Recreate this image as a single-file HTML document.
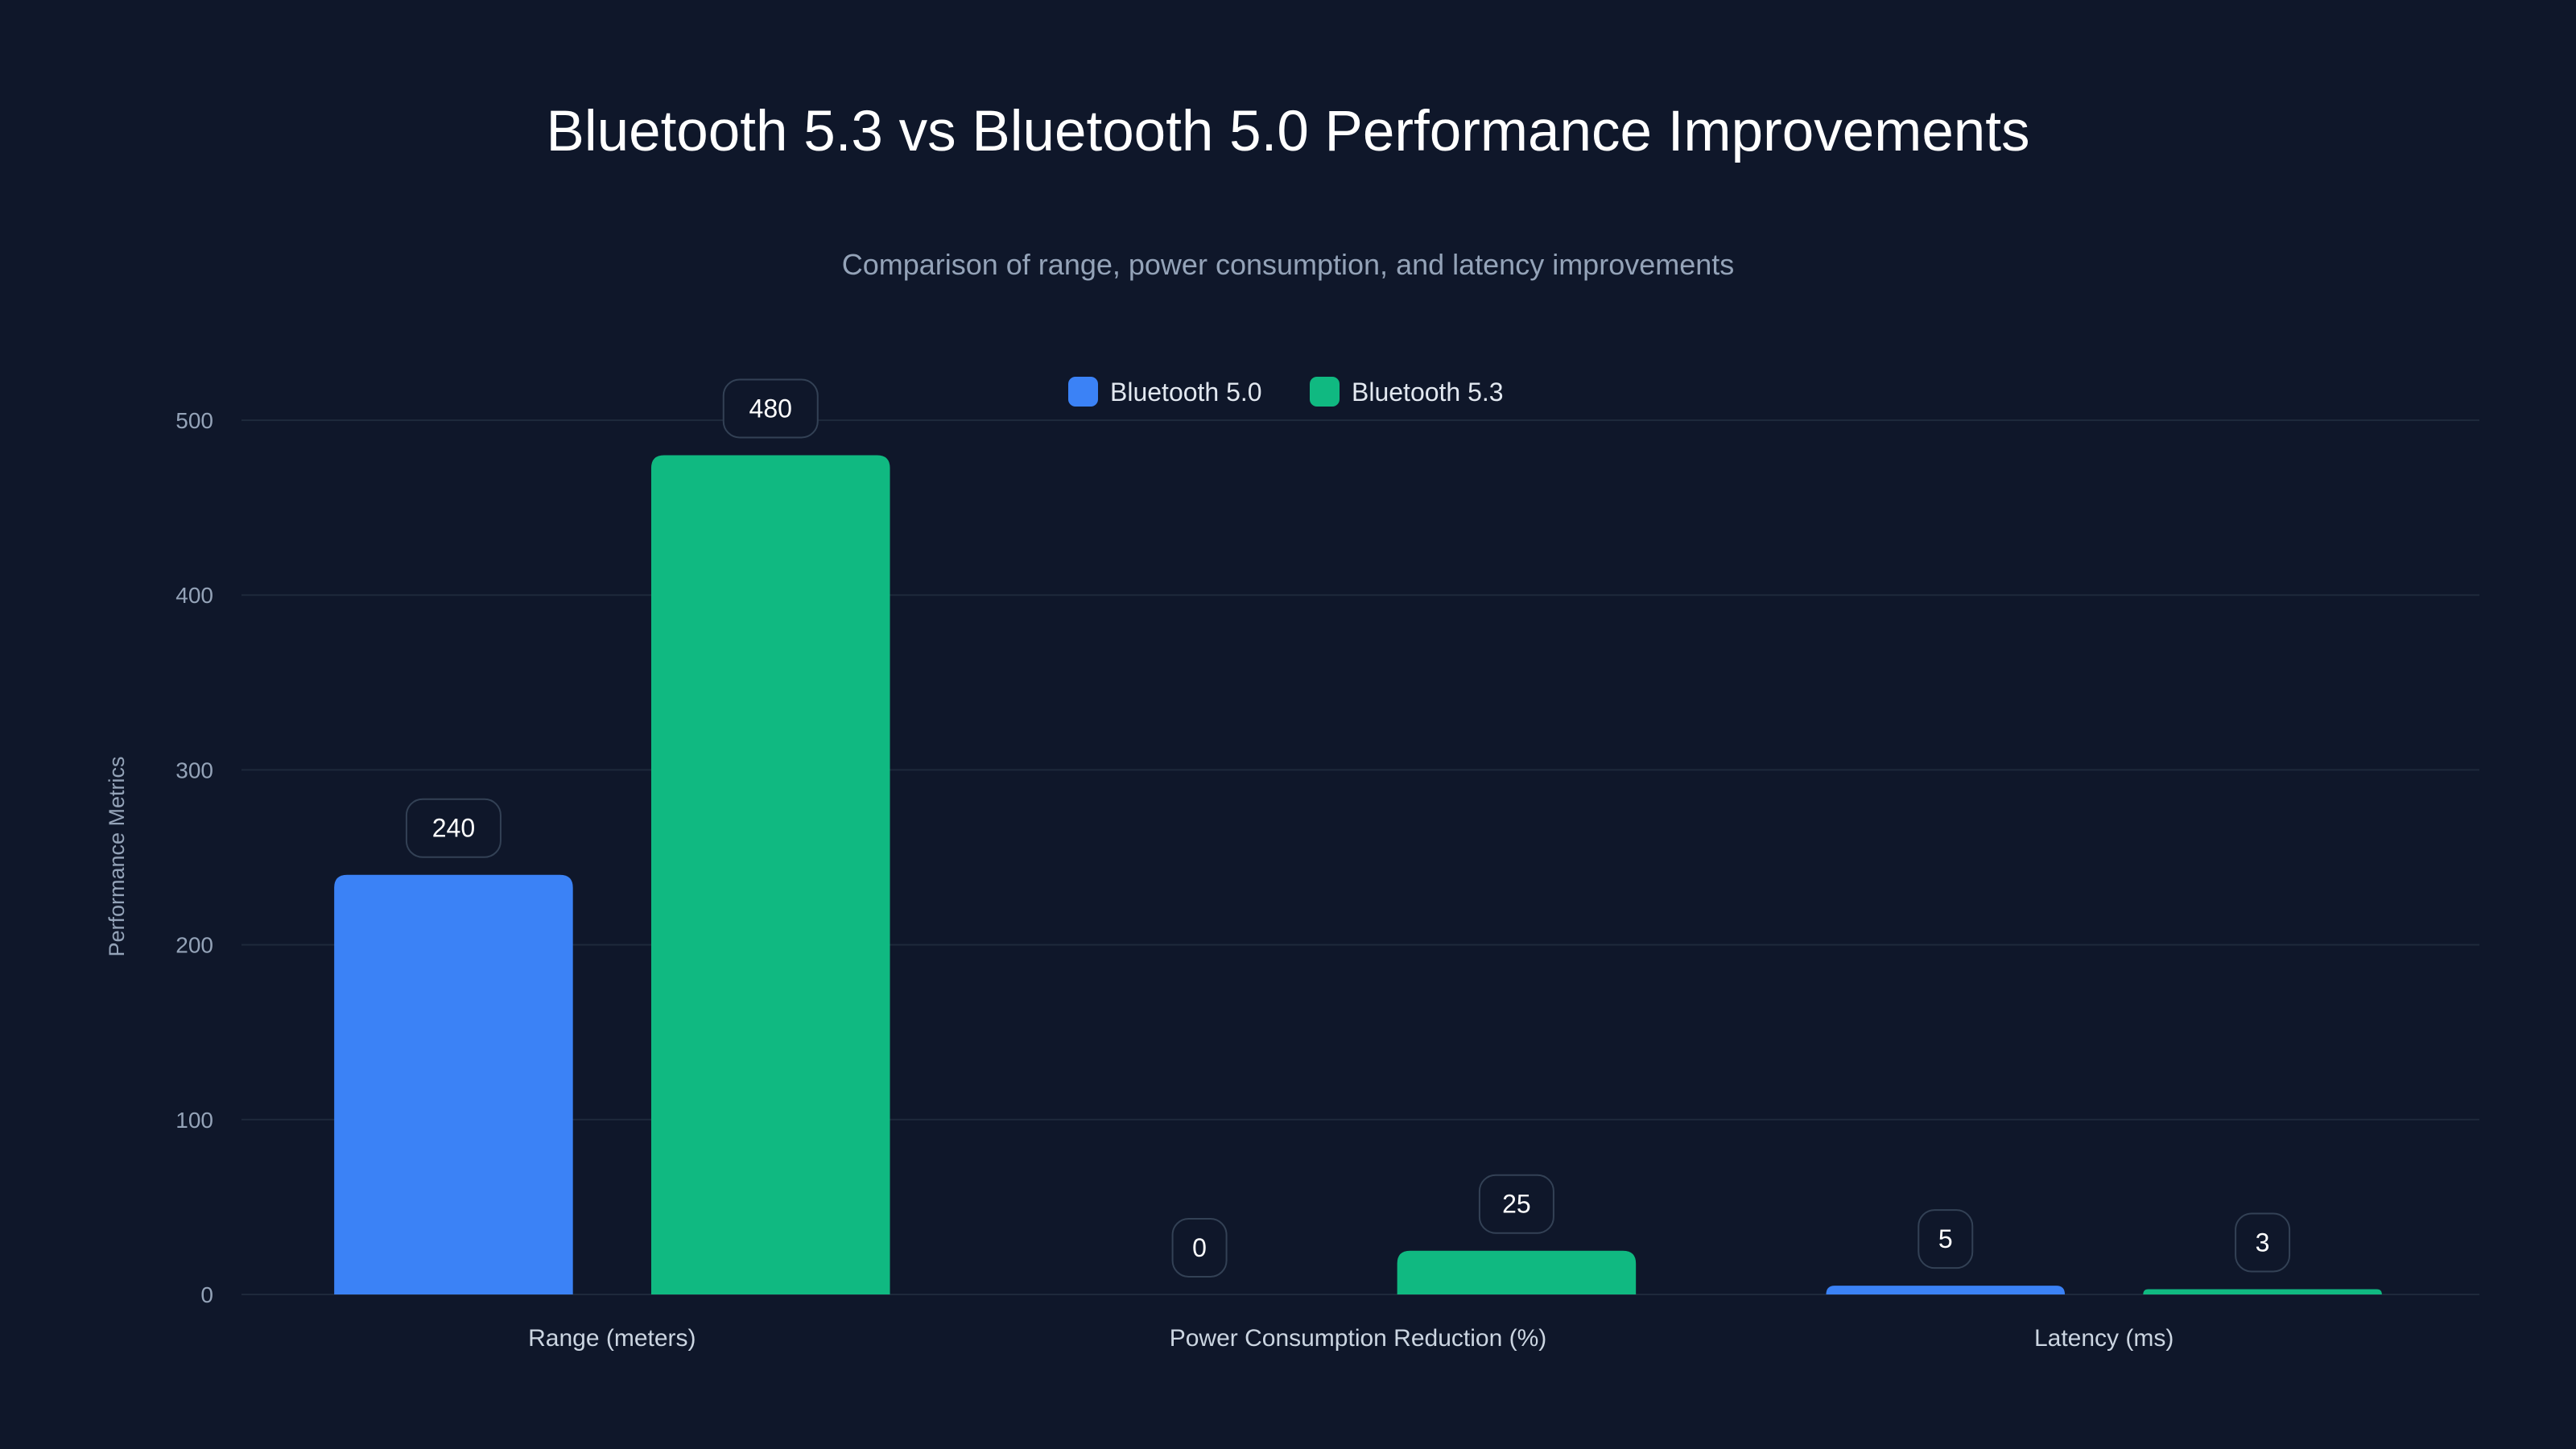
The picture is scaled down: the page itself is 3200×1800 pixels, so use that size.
<!DOCTYPE html>
<html><head><meta charset="utf-8"><style>
html,body{margin:0;padding:0;background:#0f172a;}
svg{display:block;font-family:"Liberation Sans",sans-serif;}
</style></head><body>
<svg id="chart" width="3200" height="1800" viewBox="0 0 3200 1800" xmlns="http://www.w3.org/2000/svg">
<rect width="3200" height="1800" fill="#0f172a"/>
<text x="1600" y="187" text-anchor="middle" fill="#ffffff" font-size="71">Bluetooth 5.3 vs Bluetooth 5.0 Performance Improvements</text>
<text x="1600" y="341" text-anchor="middle" fill="#94a3b8" font-size="36">Comparison of range, power consumption, and latency improvements</text>
<g>
<g><rect x="1327" y="468" width="37" height="37" rx="9" fill="#3b82f6"/><text x="1379" y="498" fill="#e2e8f0" font-size="32">Bluetooth 5.0</text></g>
<g><rect x="1627" y="468" width="37" height="37" rx="9" fill="#10b981"/><text x="1679" y="498" fill="#e2e8f0" font-size="32">Bluetooth 5.3</text></g>
</g>
<text transform="translate(154,1064) rotate(-90)" text-anchor="middle" fill="#94a3b8" font-size="27">Performance Metrics</text>
<g id="grid"></g><g id="bars"></g><g id="labels"></g>
</svg>
<script>
const categories = ["Range (meters)", "Power Consumption Reduction (%)", "Latency (ms)"];
const bt50 = [240, 0, 5];
const bt53 = [480, 25, 3];
const yTicks = [0, 100, 200, 300, 400, 500];
const seriesNames = ["Bluetooth 5.0", "Bluetooth 5.3"];

const NS = "http://www.w3.org/2000/svg";
const plotLeft = 300, plotRight = 3080, plotTop = 522, plotBottom = 1608, yMax = 500;
const yScale = v => plotBottom - (v / yMax) * (plotBottom - plotTop);
const band = (plotRight - plotLeft) / categories.length;
const barW = band * 0.32, gap = band * 0.105;
const xBar = (i, s) => plotLeft + band * i + band / 2 - gap / 2 - barW + s * (barW + gap) - 3;
function mk(tag, attrs, parent, text) {
  const e = document.createElementNS(NS, tag);
  for (const k in attrs) e.setAttribute(k, attrs[k]);
  if (text !== undefined) e.textContent = text;
  parent.appendChild(e);
  return e;
}
const gridG = document.getElementById('grid'), barsG = document.getElementById('bars'), labelsG = document.getElementById('labels');
yTicks.forEach(t => {
  const l = mk('line', {x1: plotLeft, x2: plotRight, y1: yScale(t), y2: yScale(t), stroke: '#1e293b', 'stroke-width': 2}, gridG);
  
  
  const tx = mk('text', {x: 265, y: yScale(t) + 10, 'text-anchor': 'end', fill: '#94a3b8', 'font-size': 28}, gridG, String(t));
  
  
});
categories.forEach((c, i) => {
  const tx = mk('text', {x: plotLeft + band * i + band / 2 - 3, y: 1672, 'text-anchor': 'middle', fill: '#cbd5e1', 'font-size': 30}, labelsG, c);
  
  
});
[bt50, bt53].forEach((series, s) => {
  const color = s === 0 ? '#3b82f6' : '#10b981';
  series.forEach((v, i) => {
    const x = xBar(i, s), yt = yScale(v), h = plotBottom - yt;
    if (h > 0) {
      const r = Math.min(16, h);
      const p = mk('path', {d: `M${x},${plotBottom}V${yt + r}Q${x},${yt} ${x + r},${yt}H${x + barW - r}Q${x + barW},${yt} ${x + barW},${yt + r}V${plotBottom}Z`, fill: color}, barsG);
      
      
    }
    const txt = String(v);
    const w = 42 + txt.length * 25, cx = x + barW / 2, by = yt - 22 - 72;
    const g = mk('g', {}, labelsG);
    
    
    mk('rect', {x: cx - w / 2, y: by, width: w, height: 72, rx: 20, fill: '#0f172a', stroke: '#334155', 'stroke-width': 2}, g);
    mk('text', {x: cx, y: by + 47, 'text-anchor': 'middle', fill: '#ffffff', 'font-size': 32}, g, txt);
  });
});
</script>
</body></html>
